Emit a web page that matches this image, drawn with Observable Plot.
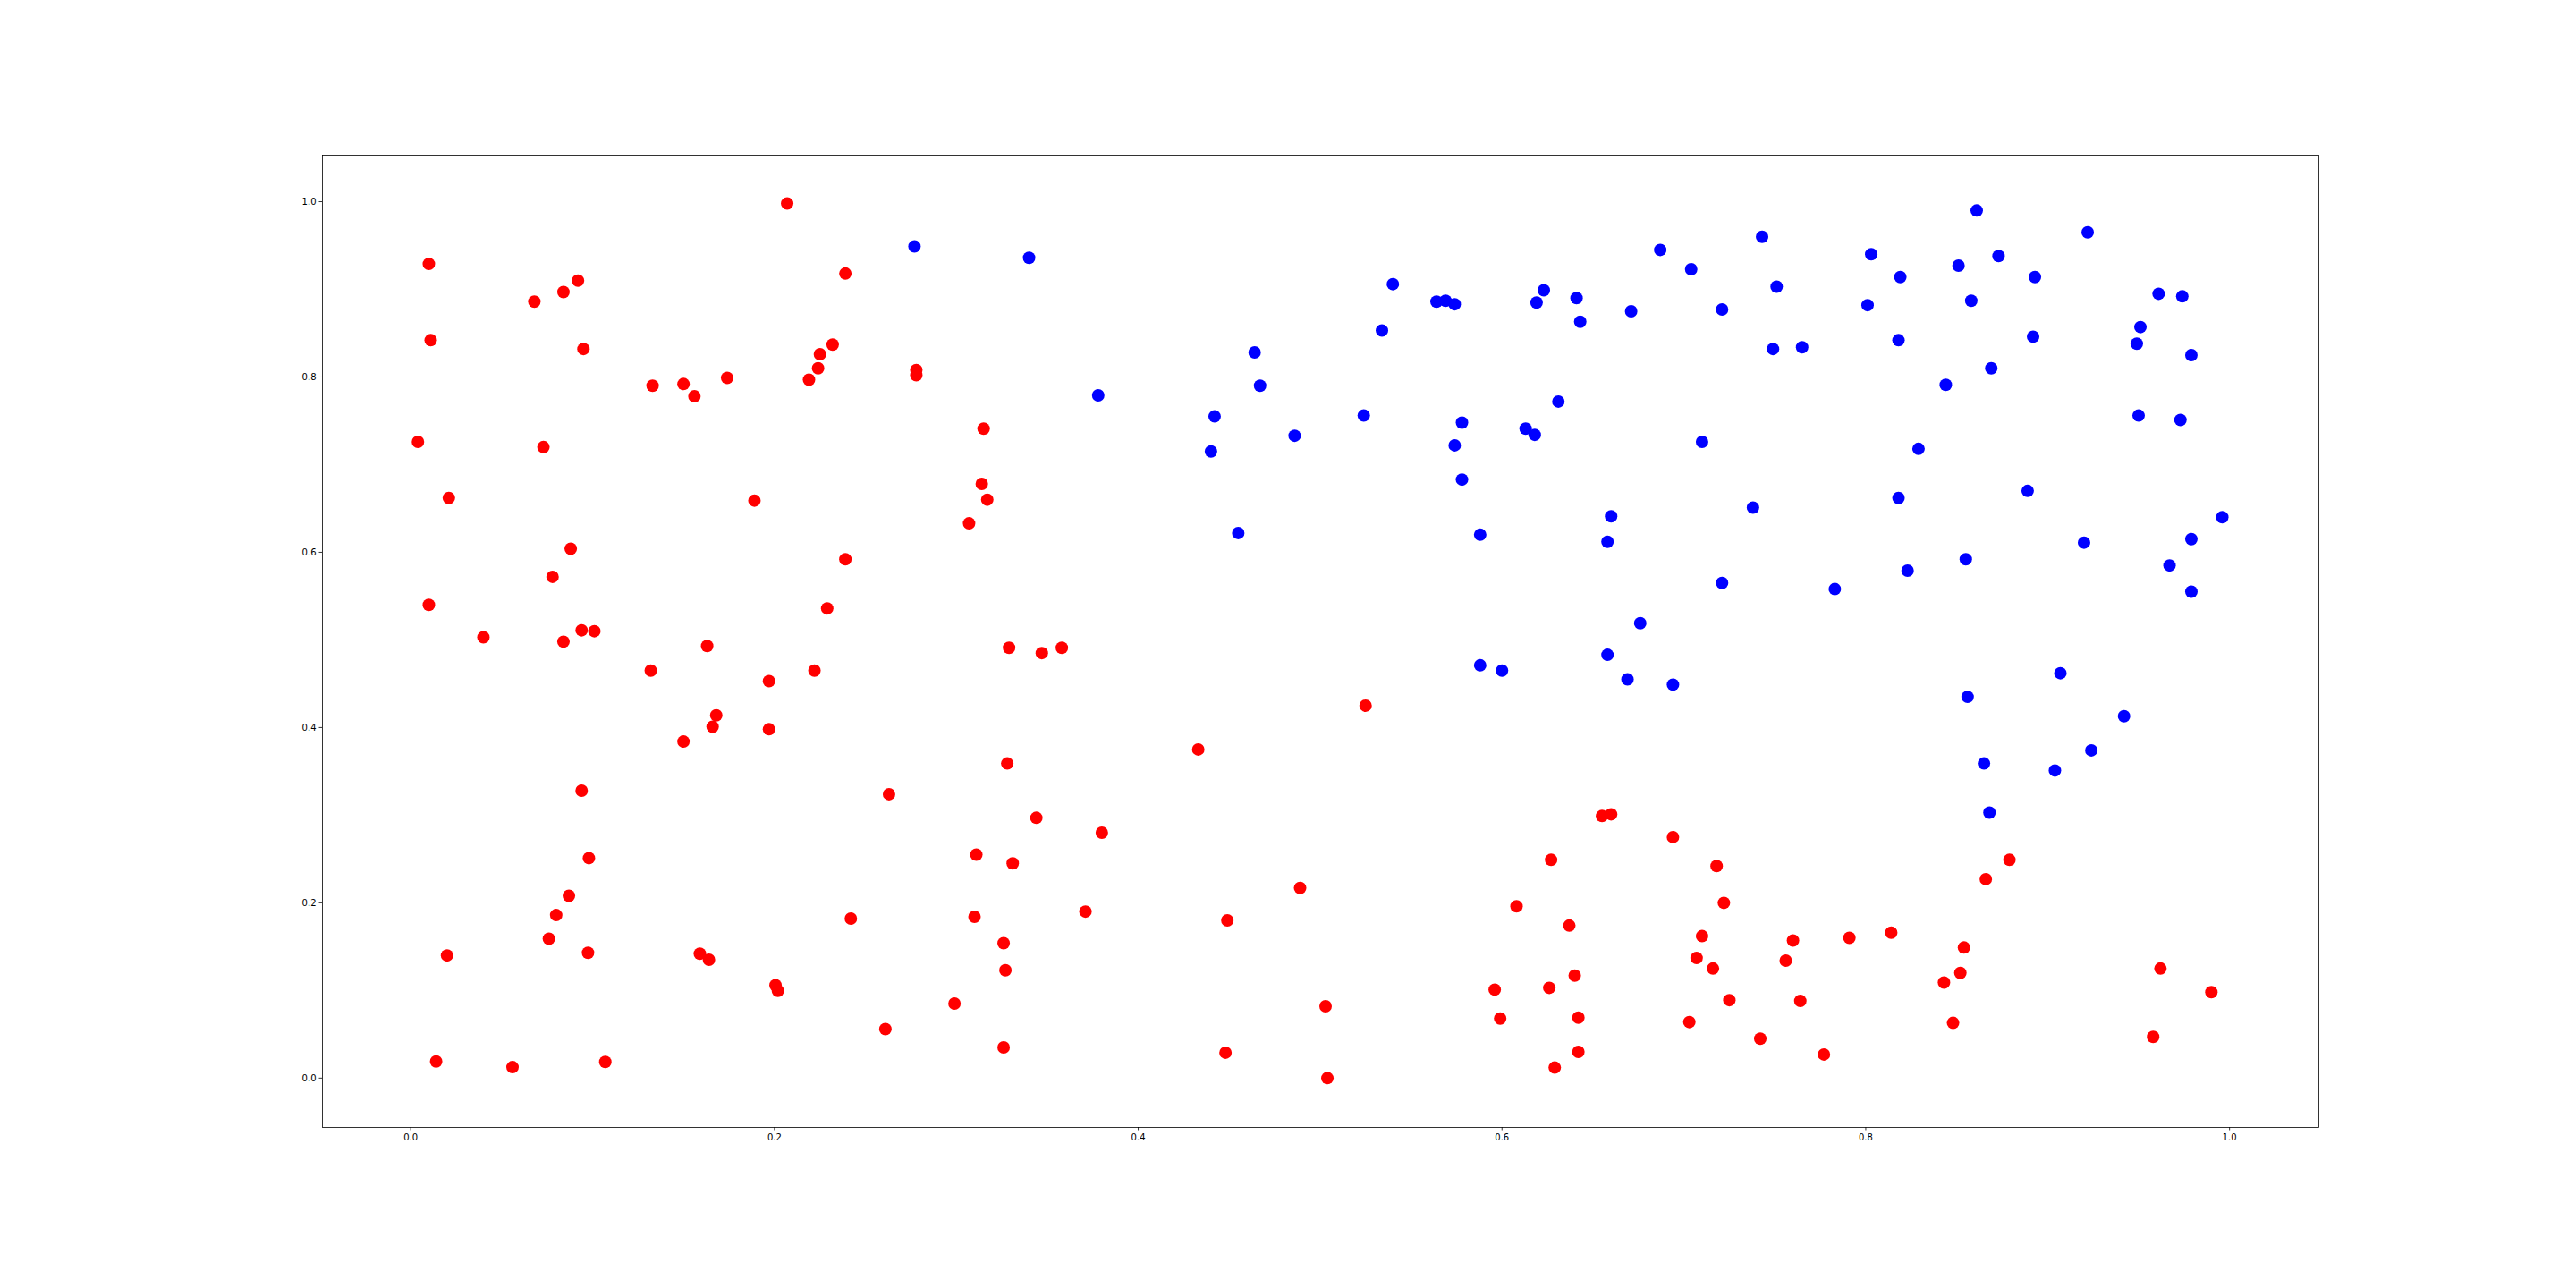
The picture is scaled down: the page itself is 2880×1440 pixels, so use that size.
<!DOCTYPE html>
<html>
<head>
<meta charset="utf-8">
<script src="https://cdn.jsdelivr.net/npm/d3@7"></script>
<script src="https://cdn.jsdelivr.net/npm/@observablehq/plot@0.6"></script>
<style>
  html, body { margin: 0; padding: 0; background: white; }
  #chart { width: 2880px; height: 1440px; }
</style>
</head>
<body>
<div id="chart"></div>
<script>
// Red series
const redX = [0.207,0.010,0.092,0.084,0.068,0.011,0.095,0.225,0.224,0.219,0.174,0.133,0.150,0.156,0.004,0.073,0.021,0.189,0.088,0.078,0.010,0.040,0.094,0.101,0.084,0.163,0.229,
  0.132,0.197,0.222,0.168,0.166,0.197,0.150,0.094,0.098,0.087,0.080,0.076,0.0975,0.020,0.159,0.164,0.2006,0.2019,0.014,0.056,0.107,
  0.239,0.232,0.278,0.278,0.315,0.314,0.317,0.307,0.239,
  0.329,0.347,0.358,0.433,0.328,0.263,0.344,0.380,0.311,0.331,0.489,0.242,0.310,0.371,0.449,0.326,0.327,0.299,0.503,0.261,0.326,0.448,0.504,
  0.525,0.655,0.660,0.694,0.627,0.718,0.722,0.608,0.637,0.710,0.760,0.791,0.707,0.716,0.756,0.640,0.596,0.626,0.725,0.764,0.599,0.642,0.703,0.742,0.777,0.642,0.629,
  0.879,0.866,0.814,0.854,0.852,0.843,0.848,0.962,0.990,0.958];
const redY = [0.998,0.929,0.910,0.897,0.886,0.842,0.832,0.826,0.810,0.797,0.799,0.790,0.792,0.778,0.726,0.720,0.662,0.659,0.604,0.572,0.540,0.503,0.511,0.510,0.498,0.493,0.536,
  0.465,0.453,0.465,0.414,0.401,0.398,0.384,0.328,0.251,0.208,0.186,0.159,0.143,0.140,0.142,0.135,0.106,0.0996,0.019,0.0125,0.0185,
  0.918,0.837,0.808,0.802,0.741,0.678,0.660,0.633,0.592,
  0.491,0.485,0.491,0.375,0.359,0.324,0.297,0.280,0.255,0.245,0.217,0.182,0.184,0.190,0.180,0.154,0.123,0.085,0.082,0.056,0.035,0.029,0.000,
  0.425,0.299,0.301,0.275,0.249,0.242,0.200,0.196,0.174,0.162,0.157,0.160,0.137,0.125,0.134,0.117,0.101,0.103,0.089,0.088,0.068,0.069,0.064,0.045,0.027,0.030,0.012,
  0.249,0.227,0.166,0.149,0.120,0.109,0.063,0.125,0.098,0.047];

// Blue series
const blueX = [0.277,0.340,0.378,0.464,0.467,0.442,0.440,0.486,0.455,
  0.540,0.534,0.564,0.569,0.574,0.623,0.619,0.641,0.643,0.671,0.687,0.704,0.743,0.751,0.721,0.749,0.765,0.524,0.578,0.574,0.578,0.613,0.618,0.631,0.710,0.588,0.660,0.658,0.738,0.721,0.783,0.676,
  0.588,0.600,0.658,0.669,0.694,
  0.861,0.922,0.803,0.873,0.851,0.819,0.893,0.801,0.858,0.961,0.974,0.818,0.892,0.951,0.949,0.979,0.869,0.844,0.950,0.973,0.829,0.818,0.889,0.996,0.979,0.920,0.855,0.823,0.967,0.979,
  0.907,0.856,0.942,0.924,0.865,0.904,0.868];
const blueY = [0.949,0.936,0.779,0.828,0.790,0.755,0.715,0.733,0.622,
  0.906,0.853,0.886,0.887,0.883,0.899,0.885,0.890,0.863,0.875,0.945,0.923,0.960,0.903,0.877,0.832,0.834,0.756,0.748,0.722,0.683,0.741,0.734,0.772,0.726,0.620,0.641,0.612,0.651,0.565,0.558,0.519,
  0.471,0.465,0.483,0.455,0.449,
  0.990,0.965,0.940,0.938,0.927,0.914,0.914,0.882,0.887,0.895,0.892,0.842,0.846,0.857,0.838,0.825,0.810,0.791,0.756,0.751,0.718,0.662,0.670,0.640,0.615,0.611,0.592,0.579,0.585,0.555,
  0.462,0.435,0.413,0.374,0.359,0.351,0.303];

const tickValues = [0.0, 0.2, 0.4, 0.6, 0.8, 1.0];

const red = redX.map((x, i) => ({x, y: redY[i]}));
const blue = blueX.map((x, i) => ({x, y: blueY[i]}));

const fmt = d3.format(".1f");

const chart = Plot.plot({
  width: 2880,
  height: 1440,
  marginLeft: 360,
  marginRight: 288,
  marginTop: 173,
  marginBottom: 180,
  style: {fontFamily: "DejaVu Sans", fontSize: "10px", color: "black", background: "white"},
  x: {domain: [-0.0485, 1.0491]},
  y: {domain: [-0.0563, 1.0531]},
  marks: [
    Plot.dot(red, {x: "x", y: "y", r: 7, fill: "#ff0000", stroke: "none"}),
    Plot.dot(blue, {x: "x", y: "y", r: 7, fill: "#0000ff", stroke: "none"}),
    Plot.axisX({ticks: tickValues, tickFormat: fmt, tickSize: 3.5, tickPadding: 3.5, strokeWidth: 0.8, label: null, fontSize: 10}),
    Plot.axisY({ticks: tickValues, tickFormat: fmt, tickSize: 3.5, tickPadding: 3.5, strokeWidth: 0.8, label: null, fontSize: 10}),
    Plot.frame({stroke: "black", strokeWidth: 0.8})
  ]
});
document.getElementById("chart").appendChild(chart);
</script>
</body>
</html>
